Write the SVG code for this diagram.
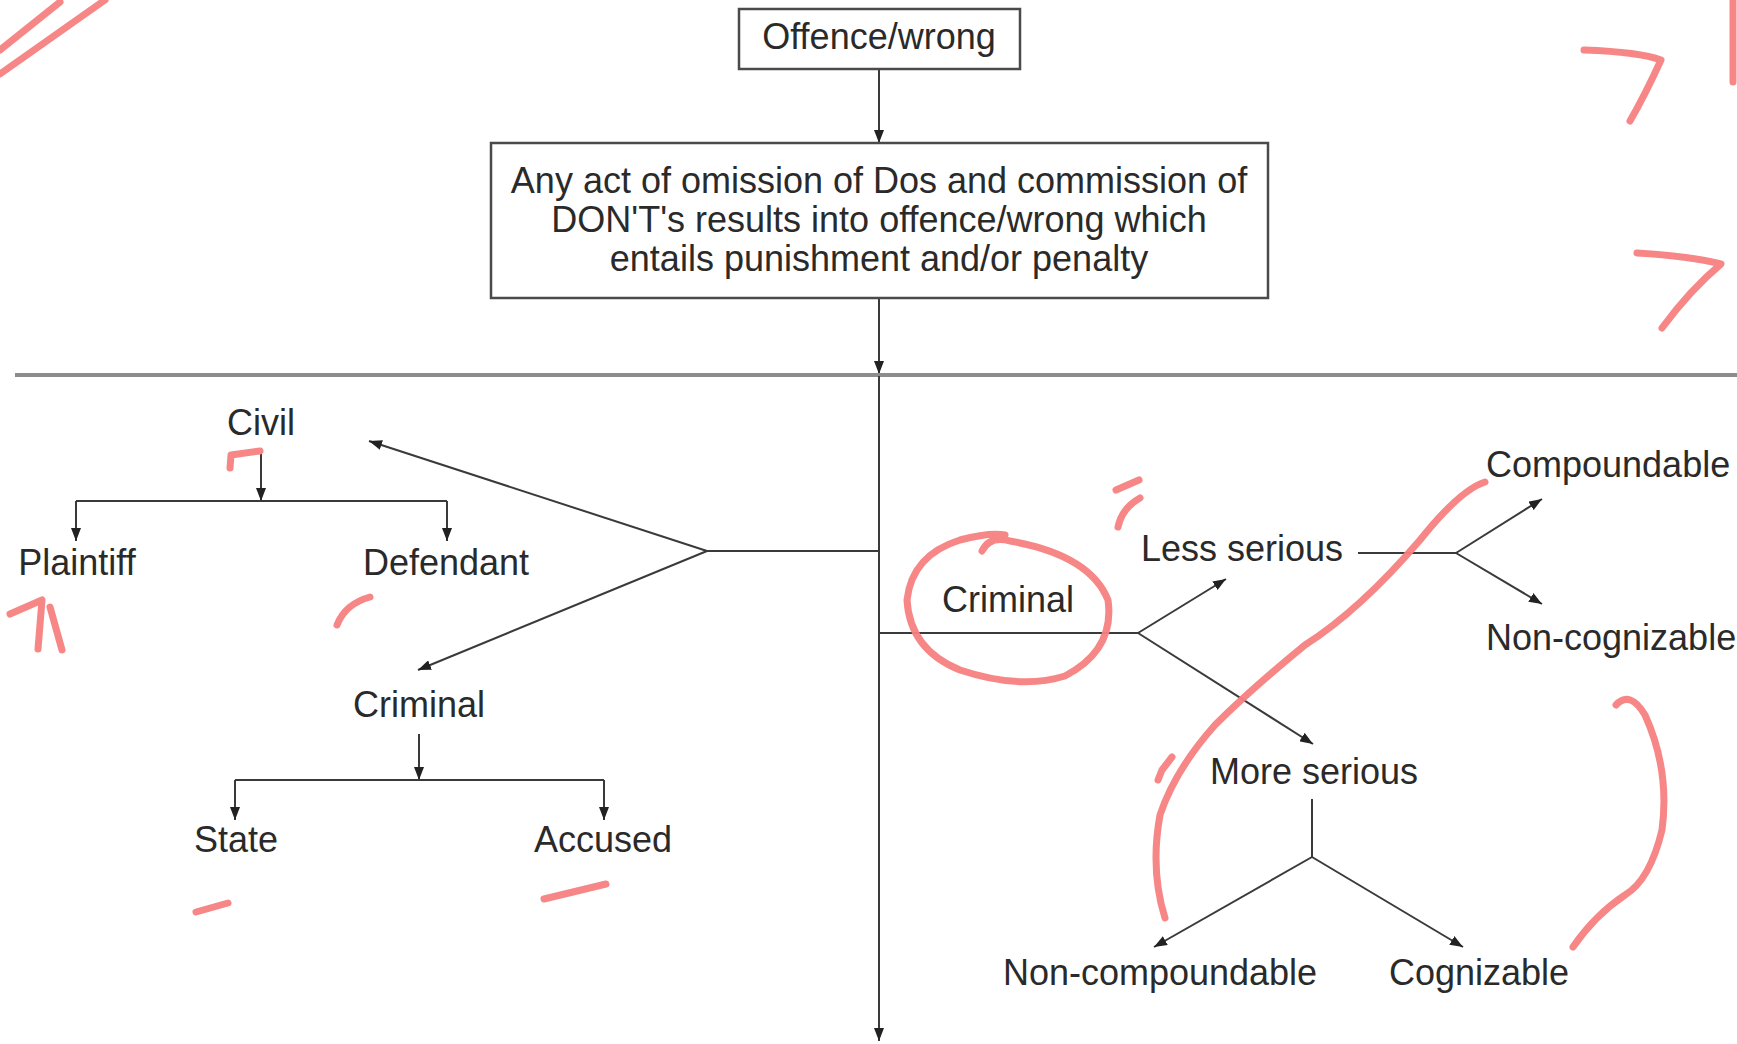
<svg xmlns="http://www.w3.org/2000/svg" width="1737" height="1044" viewBox="0 0 1737 1044">
<style>
  text { font-family: "Liberation Sans", Arial, sans-serif; font-size: 36px; fill: #2a2a2a; }
  .c { text-anchor: middle; }
  .box { fill: #ffffff; stroke: #4a4a4a; stroke-width: 2.5; }
  .ln { fill: none; stroke: #3a3a3a; stroke-width: 2; }
  .ar { fill: none; stroke: #3a3a3a; stroke-width: 2; marker-end: url(#ah); }
  .pen { fill: none; stroke: #f77f80; stroke-width: 7; stroke-linecap: round; stroke-linejoin: round; opacity: 0.95; }
</style>
<defs>
  <marker id="ah" markerUnits="userSpaceOnUse" markerWidth="14" markerHeight="10" refX="13" refY="5" orient="auto">
    <path d="M0,0 L13,5 L0,10 z" fill="#222"/>
  </marker>
</defs>
<rect width="1737" height="1044" fill="#ffffff"/>

<g id="connectors">
  <line class="ar" x1="879" y1="69" x2="879" y2="143"/>
  <line class="ar" x1="879" y1="298" x2="879" y2="374"/>
  <line x1="15" y1="375" x2="1737" y2="375" stroke="#8c8c8c" stroke-width="4"/>
  <line class="ar" x1="879" y1="376" x2="879" y2="1041"/>
  <!-- left branch -->
  <line class="ln" x1="879" y1="551" x2="707" y2="551"/>
  <line class="ar" x1="707" y1="551" x2="369" y2="441"/>
  <line class="ar" x1="707" y1="551" x2="418" y2="670"/>
  <line class="ar" x1="261" y1="454" x2="261" y2="501"/>
  <line class="ln" x1="76" y1="501" x2="447" y2="501"/>
  <line class="ar" x1="76" y1="501" x2="76" y2="541"/>
  <line class="ar" x1="447" y1="501" x2="447" y2="541"/>
  <line class="ar" x1="419" y1="734" x2="419" y2="780"/>
  <line class="ln" x1="235" y1="780" x2="604" y2="780"/>
  <line class="ar" x1="235" y1="780" x2="235" y2="820"/>
  <line class="ar" x1="604" y1="780" x2="604" y2="820"/>
  <!-- right branch -->
  <line class="ln" x1="879" y1="633" x2="1138" y2="633"/>
  <line class="ar" x1="1138" y1="633" x2="1226" y2="579"/>
  <line class="ar" x1="1138" y1="633" x2="1313" y2="744"/>
  <line class="ln" x1="1358" y1="553" x2="1456" y2="553"/>
  <line class="ar" x1="1456" y1="553" x2="1542" y2="499"/>
  <line class="ar" x1="1456" y1="553" x2="1542" y2="604"/>
  <line class="ln" x1="1312" y1="799" x2="1312" y2="857"/>
  <line class="ar" x1="1312" y1="857" x2="1154" y2="947"/>
  <line class="ar" x1="1312" y1="857" x2="1463" y2="947"/>
</g>

<g id="offence">
  <rect class="box" x="739" y="9" width="281" height="60"/>
  <text class="c" x="879" y="49">Offence/wrong</text>
</g>
<g id="definition">
  <rect class="box" x="491" y="143" width="777" height="155"/>
  <text class="c" x="879" y="193">Any act of omission of Dos and commission of</text>
  <text class="c" x="879" y="232">DON'T's results into offence/wrong which</text>
  <text class="c" x="879" y="271">entails punishment and/or penalty</text>
</g>
<g id="civil"><text class="c" x="261" y="435">Civil</text></g>
<g id="plaintiff"><text class="c" x="77" y="575">Plaintiff</text></g>
<g id="defendant"><text class="c" x="446" y="575">Defendant</text></g>
<g id="criminal-left"><text class="c" x="419" y="717">Criminal</text></g>
<g id="state"><text class="c" x="236" y="852">State</text></g>
<g id="accused"><text class="c" x="603" y="852">Accused</text></g>
<g id="criminal-right"><text class="c" x="1008" y="612">Criminal</text></g>
<g id="less-serious"><text class="c" x="1242" y="561">Less serious</text></g>
<g id="compoundable"><text x="1486" y="477">Compoundable</text></g>
<g id="non-cognizable"><text x="1486" y="650">Non-cognizable</text></g>
<g id="more-serious"><text class="c" x="1314" y="784">More serious</text></g>
<g id="non-compoundable"><text class="c" x="1160" y="985">Non-compoundable</text></g>
<g id="cognizable"><text class="c" x="1479" y="985">Cognizable</text></g>

<g id="annotations">
  <path class="pen" d="M0,50 L60,2"/>
  <path class="pen" d="M0,74 L105,0"/>
  <path class="pen" d="M1584,50 Q1640,52 1661,60 Q1645,95 1630,121"/>
  <path class="pen" d="M1733,0 L1733,82"/>
  <path class="pen" d="M1637,253 Q1690,256 1721,264 Q1690,290 1662,328"/>
  <path class="pen" d="M230,468 L231,455 L260,451"/>
  <path class="pen" d="M10,614 L42,600 L38,649 M50,607 L62,650"/>
  <path class="pen" d="M337,625 Q345,604 370,597"/>
  <path class="pen" d="M196,912 L228,903"/>
  <path class="pen" d="M544,899 L606,884"/>
  <path class="pen" d="M1116,490 L1139,480 M1118,527 Q1122,508 1140,498"/>
  <path class="pen" d="M982,551 Q990,535 1010,541 Q1090,555 1108,600 Q1115,650 1065,676 Q1020,690 960,670 Q910,650 907,600 Q912,555 960,540 Q990,532 1005,535"/>
  <path class="pen" d="M1485,482 Q1460,490 1420,540 Q1360,610 1305,645 Q1250,690 1215,725 Q1175,770 1160,815 Q1150,870 1165,918"/>
  <path class="pen" d="M1158,780 L1162,770 L1172,757"/>
  <path class="pen" d="M1616,705 Q1630,690 1645,715 Q1670,770 1662,830 Q1650,880 1625,895 Q1595,915 1573,947"/>
</g>
</svg>
